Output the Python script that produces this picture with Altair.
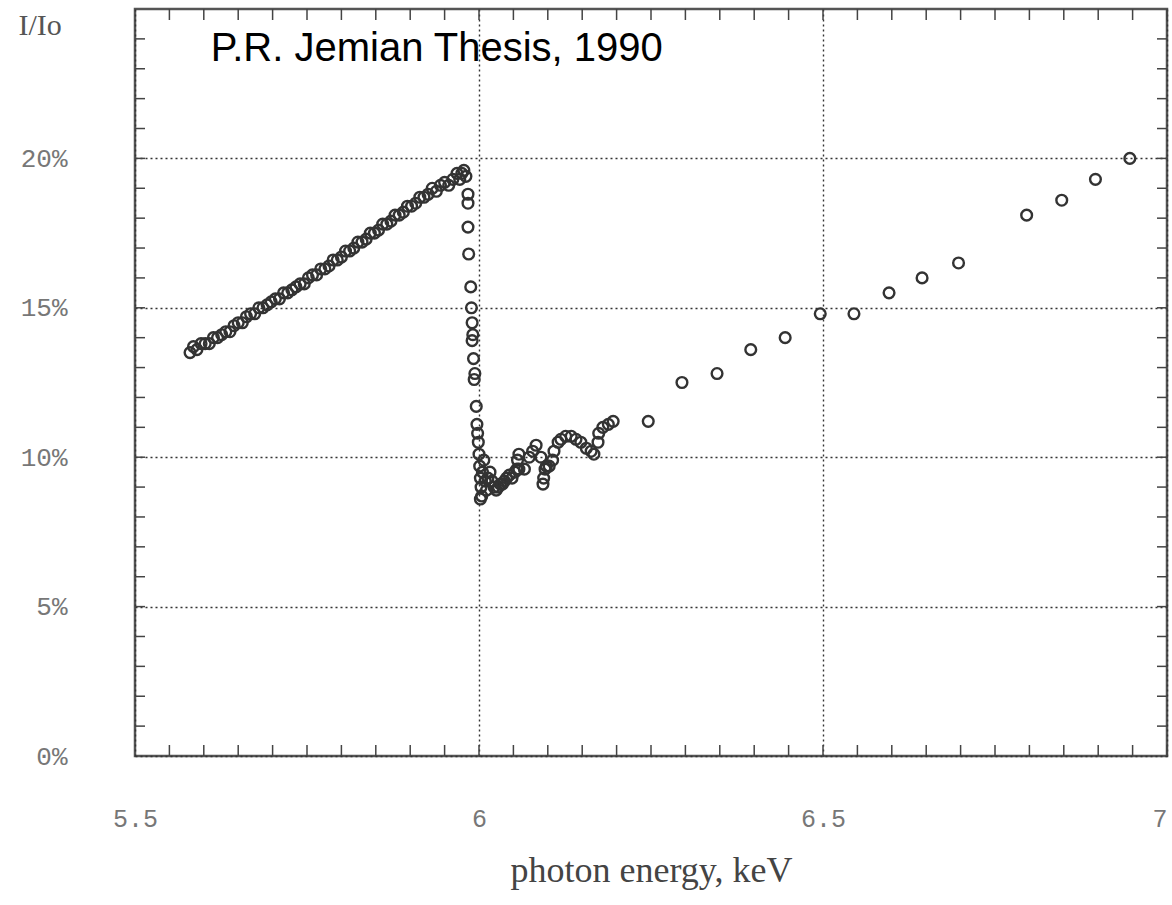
import altair as alt
import pandas as pd
import numpy as np

# ---- data ----
pre_energy = [5.580, 5.585, 5.590, 5.596, 5.602, 5.608, 5.614, 5.620, 5.626, 5.632,
              5.638, 5.644, 5.650, 5.656, 5.662, 5.668, 5.674, 5.680, 5.686, 5.692,
              5.698, 5.704, 5.710, 5.716, 5.722, 5.728, 5.734, 5.740, 5.746, 5.752,
              5.758, 5.764, 5.770, 5.776, 5.782, 5.788, 5.794, 5.800, 5.806, 5.812,
              5.818, 5.824, 5.830, 5.836, 5.842, 5.848, 5.854, 5.860, 5.866, 5.872,
              5.878, 5.884, 5.890, 5.896, 5.902, 5.908, 5.914, 5.920, 5.926, 5.932,
              5.938, 5.944, 5.950, 5.956, 5.962, 5.968, 5.972, 5.975]
pre_ratio = [13.5, 13.7, 13.6, 13.8, 13.8, 13.8, 14.0, 14.0, 14.1, 14.2,
             14.2, 14.4, 14.5, 14.5, 14.7, 14.8, 14.8, 15.0, 15.0, 15.1,
             15.2, 15.3, 15.3, 15.5, 15.5, 15.6, 15.7, 15.8, 15.8, 16.0,
             16.1, 16.1, 16.3, 16.3, 16.4, 16.6, 16.6, 16.7, 16.9, 16.9,
             17.0, 17.2, 17.2, 17.3, 17.5, 17.5, 17.6, 17.8, 17.8, 17.9,
             18.1, 18.1, 18.2, 18.4, 18.4, 18.5, 18.7, 18.7, 18.8, 19.0,
             18.9, 19.1, 19.2, 19.1, 19.3, 19.5, 19.3, 19.5]

edge_energy = [5.978, 5.981, 5.984, 5.984, 5.984, 5.985, 5.988, 5.989, 5.990, 5.991,
               5.990, 5.992, 5.994, 5.993, 5.996, 5.997, 5.998, 5.999, 6.000, 6.001,
               6.002, 6.003, 6.004, 6.002, 6.005, 6.007, 6.009, 6.011, 6.013, 6.016,
               6.019, 6.022, 6.025, 6.028, 6.031, 6.034, 6.037, 6.040, 6.044, 6.048,
               6.052, 6.055, 6.058, 6.058, 6.056, 6.066, 6.073, 6.078, 6.083, 6.090,
               6.093, 6.094, 6.096, 6.098, 6.102, 6.107, 6.109, 6.115, 6.119, 6.126,
               6.134, 6.141, 6.148, 6.156, 6.163, 6.167, 6.173, 6.174, 6.180, 6.188,
               6.195]
edge_ratio = [19.6, 19.4, 18.8, 18.5, 17.7, 16.8, 15.7, 15.0, 14.5, 14.1,
              13.9, 13.3, 12.8, 12.6, 11.7, 11.1, 10.8, 10.5, 10.1, 9.7,
              9.3, 9.0, 8.7, 8.6, 9.5, 9.9, 9.2, 8.9, 9.3, 9.5,
              9.2, 9.0, 8.9, 9.0, 9.1, 9.1, 9.2, 9.3, 9.4, 9.3,
              9.5, 9.6, 9.6, 10.1, 9.9, 9.6, 10.0, 10.2, 10.4, 10.0,
              9.1, 9.3, 9.6, 9.7, 9.7, 9.9, 10.2, 10.5, 10.6, 10.7,
              10.7, 10.6, 10.5, 10.3, 10.2, 10.1, 10.5, 10.8, 11.0, 11.1,
              11.2]

post_energy = [6.246, 6.295, 6.346, 6.395, 6.445, 6.496, 6.545, 6.596, 6.644, 6.697,
               6.796, 6.847, 6.896, 6.946]
post_ratio = [11.2, 12.5, 12.8, 13.6, 14.0, 14.8, 14.8, 15.5, 16.0, 16.5,
              18.1, 18.6, 19.3, 20.0]

x_major = [5.5, 6.0, 6.5, 7.0]
y_major = [0, 5, 10, 15, 20]
x_minor = [round(v, 2) for v in np.arange(5.55, 7.0, 0.05)]
y_minor = list(range(1, 25))

note_text = "P.R. Jemian Thesis, 1990"

# ---- layout ----
W, H = 1032, 747
PAD = {"left": 135, "top": 9, "right": 5, "bottom": 149}

xs = alt.Scale(domain=[5.5, 7.0], nice=False, zero=False)
ys = alt.Scale(domain=[0, 25], nice=False, zero=False)

df = pd.DataFrame({
    "energy": pre_energy + edge_energy + post_energy,
    "ratio": pre_ratio + edge_ratio + post_ratio,
})

points = alt.Chart(df).mark_point(
    shape="circle", filled=False, size=115, strokeWidth=2.4, color="#333", opacity=1
).encode(
    x=alt.X("energy:Q", scale=xs,
            axis=alt.Axis(values=x_major, labelExpr="datum.value + ''",
                          grid=True, gridDash=[2, 3], gridColor="#333", gridWidth=1.4,
                          domain=False, ticks=False,
                          labelFont="Liberation Mono", labelFontSize=25, labelColor="#777",
                          labelPadding=50, labelFlush=False,
                          labelAlign=alt.ConditionalAxisLabelAlign(
                              condition={"test": "datum.value >= 7", "value": "right"},
                              value="center"),
                          title="photon energy, keV", titleFont="Liberation Serif",
                          titleFontSize=36, titleFontWeight="normal", titleColor="#444",
                          titleY=114, titleBaseline="middle")),
    y=alt.Y("ratio:Q", scale=ys,
            axis=alt.Axis(values=y_major, labelExpr="datum.value + '%'",
                          grid=True, gridDash=[2, 3], gridColor="#333", gridWidth=1.4,
                          domain=False, ticks=False,
                          labelFont="Liberation Mono", labelFontSize=26, labelColor="#777",
                          labelPadding=68, labelFlush=False,
                          title="I/Io", titleFont="Liberation Serif", titleFontSize=30,
                          titleFontWeight="normal", titleColor="#555", titleAngle=0,
                          titleAlign="left", titleBaseline="middle",
                          titleX=-117, titleY=16)),
)

xt = pd.DataFrame({"t": x_minor})
yt = pd.DataFrame({"t": y_minor})

tick_color = "#444"
xb = alt.Chart(xt).mark_rule(color=tick_color, strokeWidth=1.5).encode(
    x=alt.X("t:Q", scale=xs), y=alt.value(H), y2=alt.value(H - 11))
xtop = alt.Chart(xt).mark_rule(color=tick_color, strokeWidth=1.5).encode(
    x=alt.X("t:Q", scale=xs), y=alt.value(0), y2=alt.value(11))
yl = alt.Chart(yt).mark_rule(color=tick_color, strokeWidth=1.5).encode(
    y=alt.Y("t:Q", scale=ys), x=alt.value(0), x2=alt.value(10))
yr = alt.Chart(yt).mark_rule(color=tick_color, strokeWidth=1.5).encode(
    y=alt.Y("t:Q", scale=ys), x=alt.value(W), x2=alt.value(W - 10))

note = alt.Chart(pd.DataFrame({"label": [note_text], "e": [5.61], "r": [23.65]})).mark_text(
    font="Liberation Sans", fontSize=40, color="#000", align="left", baseline="middle"
).encode(x=alt.X("e:Q", scale=xs), y=alt.Y("r:Q", scale=ys), text="label:N")

chart = alt.layer(points, xb, xtop, yl, yr, note).properties(
    width=W, height=H, padding=PAD, autosize=alt.AutoSizeParams(type="none"),
    background="white"
).configure_view(stroke="#555", strokeWidth=2.5)

chart.save("out.html", embed_options={"renderer": "svg", "actions": False})
